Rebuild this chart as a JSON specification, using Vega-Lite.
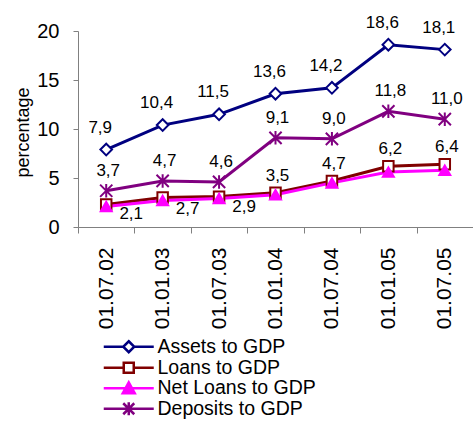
{
  "$schema": "https://vega.github.io/schema/vega-lite/v6.json",
  "width": 395,
  "height": 196,
  "autosize": {"type": "none"},
  "padding": {"left": 78, "top": 31, "right": 0, "bottom": 194},
  "background": "white",
  "config": {
    "view": {"stroke": null},
    "font": "Liberation Sans",
    "locale": {"number": {"decimal": ",", "thousands": ".", "grouping": [3], "currency": ["", ""]}}
  },
  "data": {
    "values": [
      {"date": "01.07.02", "series": "Assets to GDP", "value": 7.9},
      {"date": "01.01.03", "series": "Assets to GDP", "value": 10.4},
      {"date": "01.07.03", "series": "Assets to GDP", "value": 11.5},
      {"date": "01.01.04", "series": "Assets to GDP", "value": 13.6},
      {"date": "01.07.04", "series": "Assets to GDP", "value": 14.2},
      {"date": "01.01.05", "series": "Assets to GDP", "value": 18.6},
      {"date": "01.07.05", "series": "Assets to GDP", "value": 18.1},
      {"date": "01.07.02", "series": "Loans to GDP", "value": 2.3},
      {"date": "01.01.03", "series": "Loans to GDP", "value": 3.0},
      {"date": "01.07.03", "series": "Loans to GDP", "value": 3.1},
      {"date": "01.01.04", "series": "Loans to GDP", "value": 3.5},
      {"date": "01.07.04", "series": "Loans to GDP", "value": 4.7},
      {"date": "01.01.05", "series": "Loans to GDP", "value": 6.2},
      {"date": "01.07.05", "series": "Loans to GDP", "value": 6.4},
      {"date": "01.07.02", "series": "Net Loans to GDP", "value": 2.1},
      {"date": "01.01.03", "series": "Net Loans to GDP", "value": 2.7},
      {"date": "01.07.03", "series": "Net Loans to GDP", "value": 2.9},
      {"date": "01.01.04", "series": "Net Loans to GDP", "value": 3.3},
      {"date": "01.07.04", "series": "Net Loans to GDP", "value": 4.5},
      {"date": "01.01.05", "series": "Net Loans to GDP", "value": 5.6},
      {"date": "01.07.05", "series": "Net Loans to GDP", "value": 5.8},
      {"date": "01.07.02", "series": "Deposits to GDP", "value": 3.7},
      {"date": "01.01.03", "series": "Deposits to GDP", "value": 4.7},
      {"date": "01.07.03", "series": "Deposits to GDP", "value": 4.6},
      {"date": "01.01.04", "series": "Deposits to GDP", "value": 9.1},
      {"date": "01.07.04", "series": "Deposits to GDP", "value": 9.0},
      {"date": "01.01.05", "series": "Deposits to GDP", "value": 11.8},
      {"date": "01.07.05", "series": "Deposits to GDP", "value": 11.0}
    ]
  },
  "encoding": {
    "x": {
      "field": "date", "type": "ordinal", "sort": null,
      "scale": {"type": "band", "paddingInner": 0, "paddingOuter": 0},
      "axis": {
        "title": null, "tickBand": "extent", "labelAngle": -90, "labelFontSize": 21,
        "labelColor": "#000000", "labelPadding": 14, "tickSize": 6,
        "tickColor": "#808080", "domainColor": "#808080", "tickWidth": 1, "domainWidth": 1
      }
    },
    "y": {
      "field": "value", "type": "quantitative",
      "scale": {"domain": [0, 20]},
      "axis": {
        "title": "percentage", "titleFontSize": 18, "titleFontWeight": "normal", "titleColor": "#000000",
        "titleX": -55, "titleY": 101, "titleAlign": "center", "titleBaseline": "middle", "titleAngle": -90,
        "values": [0, 5, 10, 15, 20], "labelFontSize": 20, "labelColor": "#000000", "labelPadding": 14,
        "tickSize": 5, "grid": false, "domainColor": "#808080", "tickColor": "#808080"
      }
    }
  },
  "layer": [
    {
      "mark": {"type": "line", "strokeWidth": 3},
      "encoding": {
        "color": {
          "field": "series", "type": "nominal",
          "scale": {
            "domain": ["Assets to GDP", "Loans to GDP", "Net Loans to GDP", "Deposits to GDP"],
            "range": ["#000080", "#800000", "#FF00FF", "#800080"]
          },
          "legend": {
            "title": null, "orient": "none", "legendX": 41, "legendY": 306, "direction": "vertical",
            "labelFontSize": 19.5, "labelColor": "#000000", "labelOffset": 19, "symbolSize": 100,
            "symbolStrokeWidth": 2.5, "rowPadding": -1.5,
            "encoding": {
              "symbols": {
                "shape": {"value": {"expr": "datum.value==='Assets to GDP'?'M-5,0H-1.1M1.1,0H5M0,-1.1L1.1,0L0,1.1L-1.1,0Z':datum.value==='Loans to GDP'?'M-5,0H-1M1,0H5M-1,-1H1V1H-1Z':datum.value==='Net Loans to GDP'?'M-5,0H5M0,-1.2L1.2,1H-1.2Z':'M-5,0H5M0,-1.3V1.3M-1.1,-1.1L1.1,1.1M-1.1,1.1L1.1,-1.1'"}},
                "fill": {"value": {"expr": "datum.value==='Net Loans to GDP'?'#FF00FF':'#FFFFFF'"}},
                "fillOpacity": {"value": 1},
                "strokeWidth": {"value": 2.5},
                "size": {"value": 100}
              }
            }
          }
        }
      }
    },
    {
      "transform": [{"filter": {"field": "series", "equal": "Assets to GDP"}}],
      "mark": {"type": "point", "shape": "diamond", "fill": "#FFFFFF", "stroke": "#000080", "strokeWidth": 2, "opacity": 1, "fillOpacity": 1, "size": 135}
    },
    {
      "transform": [{"filter": {"field": "series", "equal": "Loans to GDP"}}],
      "mark": {"type": "point", "shape": "square", "fill": "#FFFFFF", "stroke": "#800000", "strokeWidth": 2, "opacity": 1, "fillOpacity": 1, "size": 110}
    },
    {
      "transform": [{"filter": {"field": "series", "equal": "Net Loans to GDP"}}],
      "mark": {"type": "point", "shape": "triangle-up", "fill": "#FF00FF", "stroke": "#FF00FF", "strokeWidth": 2, "opacity": 1, "fillOpacity": 1, "size": 120}
    },
    {
      "transform": [{"filter": {"field": "series", "equal": "Deposits to GDP"}}],
      "mark": {"type": "point", "shape": "M0,-1.1V1.1M-1,-1L1,1M-1,1L1,-1", "fill": "transparent", "stroke": "#800080", "strokeWidth": 2, "opacity": 1, "size": 150}
    },
    {
      "transform": [{"filter": {"field": "series", "equal": "Assets to GDP"}}],
      "mark": {"type": "text", "fontSize": 17, "color": "#000000", "dx": -6, "dy": -22, "baseline": "middle"},
      "encoding": {"text": {"field": "value", "type": "quantitative", "format": ".1f"}}
    },
    {
      "transform": [{"filter": {"field": "series", "equal": "Deposits to GDP"}}],
      "mark": {"type": "text", "fontSize": 17, "color": "#000000", "dx": 2, "dy": -20, "baseline": "middle"},
      "encoding": {"text": {"field": "value", "type": "quantitative", "format": ".1f"}}
    },
    {
      "transform": [{"filter": {"and": [{"field": "series", "equal": "Loans to GDP"}, {"field": "date", "oneOf": ["01.01.04", "01.07.04", "01.01.05", "01.07.05"]}]}}],
      "mark": {"type": "text", "fontSize": 17, "color": "#000000", "dx": 2, "dy": -17, "baseline": "middle"},
      "encoding": {"text": {"field": "value", "type": "quantitative", "format": ".1f"}}
    },
    {
      "transform": [{"filter": {"and": [{"field": "series", "equal": "Net Loans to GDP"}, {"field": "date", "oneOf": ["01.07.02", "01.01.03", "01.07.03"]}]}}],
      "mark": {"type": "text", "fontSize": 17, "color": "#000000", "dx": 25, "dy": 8, "baseline": "middle"},
      "encoding": {"text": {"field": "value", "type": "quantitative", "format": ".1f"}}
    }
  ]
}
